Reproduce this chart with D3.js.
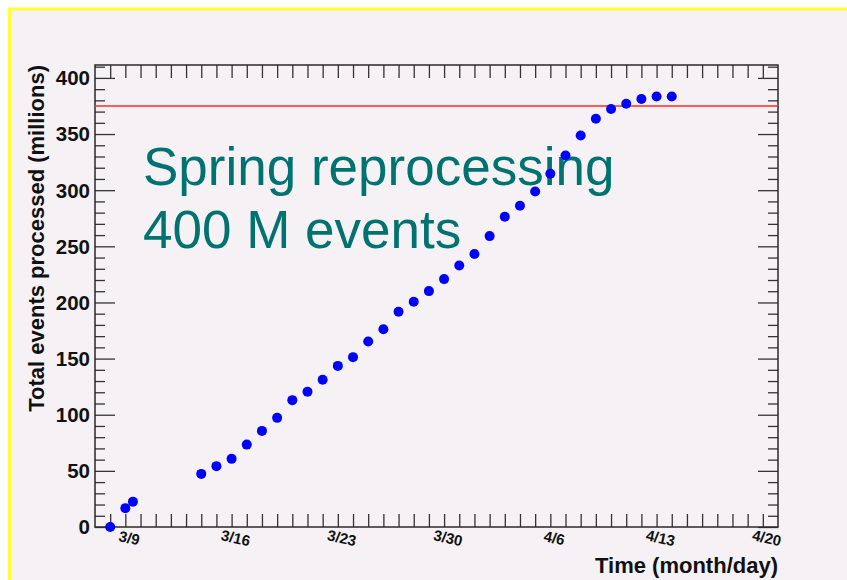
<!DOCTYPE html>
<html>
<head>
<meta charset="utf-8">
<script src="https://cdn.jsdelivr.net/npm/d3@7"></script>
<style>
  html, body { margin: 0; padding: 0; background: #ffffff; }
  svg { display: block; }
  text { font-family: "Liberation Sans", Arial, Helvetica, sans-serif; }
</style>
</head>
<body>
<svg id="chart" width="847" height="580"></svg>
<script>
// Sample times (UTC) of the cumulative event count
const sampleTimes = [
  "2008-03-08T00:00Z", "2008-03-09T00:00Z", "2008-03-09T12:00Z",
  "2008-03-14T00:00Z", "2008-03-15T00:00Z", "2008-03-16T00:00Z", "2008-03-17T00:00Z",
  "2008-03-18T00:00Z", "2008-03-19T00:00Z", "2008-03-20T00:00Z", "2008-03-21T00:00Z",
  "2008-03-22T00:00Z", "2008-03-23T00:00Z", "2008-03-24T00:00Z", "2008-03-25T00:00Z",
  "2008-03-26T00:00Z", "2008-03-27T00:00Z", "2008-03-28T00:00Z", "2008-03-29T00:00Z",
  "2008-03-30T00:00Z", "2008-03-31T00:00Z", "2008-04-01T00:00Z", "2008-04-02T00:00Z",
  "2008-04-03T00:00Z", "2008-04-04T00:00Z", "2008-04-05T00:00Z", "2008-04-06T00:00Z",
  "2008-04-07T00:00Z", "2008-04-08T00:00Z", "2008-04-09T00:00Z", "2008-04-10T00:00Z",
  "2008-04-11T00:00Z", "2008-04-12T00:00Z", "2008-04-13T00:00Z", "2008-04-14T00:00Z"
];
// Total events processed, in millions
const totalEvents = [
  0, 16.8, 22.6,
  47.3, 54.2, 60.7, 73.4, 85.6, 97.2, 113.0, 120.4, 131.2, 143.5,
  151.3, 165.2, 176.2, 191.7, 200.6, 210.1, 220.8, 232.9, 243.1, 259.1,
  276.3, 286.1, 298.9, 314.6, 330.9, 348.7, 363.6, 372.3, 377.0, 381.2,
  383.5, 383.5
];
// Target line (millions)
const targetEvents = [375];

// Axis ranges and labels
const timeDomain = ["2008-03-07T00:00Z", "2008-04-21T00:00Z"];
const timeTickLabels = ["3/9", "3/16", "3/23", "3/30", "4/6", "4/13", "4/20"];
const timeTickDates = ["2008-03-09T00:00Z", "2008-03-16T00:00Z", "2008-03-23T00:00Z",
  "2008-03-30T00:00Z", "2008-04-06T00:00Z", "2008-04-13T00:00Z", "2008-04-20T00:00Z"];
const eventsMax = 411.5;
const eventsMajorTicks = [0, 50, 100, 150, 200, 250, 300, 350, 400];

const titleLines = ["Spring reprocessing", "400 M events"];
const xTitle = "Time (month/day)";
const yTitle = "Total events processed (millions)";

const svg = d3.select("#chart");

// Pad: yellow outline around a light lavender fill
svg.append("rect").attr("x", 9.5).attr("y", 9).attr("width", 900).attr("height", 700)
  .attr("fill", "#f5f1f5").attr("stroke", "#ffff33").attr("stroke-width", 3);

const frame = { left: 95, right: 778, top: 65, bottom: 527 };

const x = d3.scaleUtc()
  .domain(timeDomain.map(d => new Date(d)))
  .range([frame.left, frame.right]);
const y = d3.scaleLinear()
  .domain([0, eventsMax])
  .range([frame.bottom, frame.top]);

const tickColor = "#333333";

// Daily ticks on bottom and top axes
const dayTicks = d3.utcDay.range(d3.utcDay.offset(x.domain()[0], 1), x.domain()[1]);

svg.append("g")
  .attr("transform", `translate(0,${frame.bottom})`)
  .call(d3.axisBottom(x).tickValues(dayTicks).tickSizeInner(-13).tickSizeOuter(0).tickFormat(""))
  .call(g => g.select(".domain").remove())
  .call(g => g.selectAll("line").attr("stroke", tickColor).attr("stroke-width", 1.3));

svg.append("g")
  .attr("transform", `translate(0,${frame.top})`)
  .call(d3.axisTop(x).tickValues(dayTicks).tickSizeInner(-13).tickSizeOuter(0).tickFormat(""))
  .call(g => g.select(".domain").remove())
  .call(g => g.selectAll("line").attr("stroke", tickColor).attr("stroke-width", 1.3));

// Vertical ticks: majors every 50, minors every 10
const minorTicks = d3.range(0, eventsMax, 10).filter(v => v % 50 !== 0);

function yTicks(axisFn, xPos, size, values) {
  svg.append("g")
    .attr("transform", `translate(${xPos},0)`)
    .call(axisFn(y).tickValues(values).tickSizeInner(-size).tickSizeOuter(0).tickFormat(""))
    .call(g => g.select(".domain").remove())
    .call(g => g.selectAll("line").attr("stroke", tickColor).attr("stroke-width", 1.3));
}
yTicks(d3.axisLeft, frame.left, 20, eventsMajorTicks);
yTicks(d3.axisLeft, frame.left, 10, minorTicks);
yTicks(d3.axisRight, frame.right, 20, eventsMajorTicks);
yTicks(d3.axisRight, frame.right, 10, minorTicks);

// Frame
svg.append("rect")
  .attr("x", frame.left).attr("y", frame.top)
  .attr("width", frame.right - frame.left).attr("height", frame.bottom - frame.top)
  .attr("fill", "none").attr("stroke", "#2a2a2a").attr("stroke-width", 1.5);

// Y tick labels
svg.append("g").selectAll("text")
  .data(eventsMajorTicks)
  .join("text")
  .attr("x", frame.left - 5)
  .attr("y", d => y(d))
  .attr("dy", "0.36em")
  .attr("text-anchor", "end")
  .attr("font-size", 20.5)
  .attr("font-weight", "bold")
  .attr("fill", "#111")
  .text(d => d);

// X tick labels (slightly tilted)
svg.append("g").selectAll("text")
  .data(timeTickDates.map((d, i) => ({ t: new Date(d), label: timeTickLabels[i] })))
  .join("text")
  .attr("transform", d => `translate(${x(d.t) + 4},${frame.bottom + 11}) rotate(12)`)
  .attr("text-anchor", "middle")
  .attr("dy", "0.35em")
  .attr("font-size", 15)
  .attr("font-weight", "bold")
  .attr("fill", "#111")
  .text(d => d.label);

// Axis titles
svg.append("text")
  .attr("x", frame.right).attr("y", 573)
  .attr("text-anchor", "end")
  .attr("font-size", 22)
  .attr("font-weight", "bold")
  .attr("fill", "#111")
  .text(xTitle);

svg.append("text")
  .attr("transform", `translate(44,${frame.top}) rotate(-90)`)
  .attr("text-anchor", "end")
  .attr("font-size", 22)
  .attr("font-weight", "bold")
  .attr("fill", "#111")
  .text(yTitle);

// Target line
svg.append("g").selectAll("line")
  .data(targetEvents)
  .join("line")
  .attr("x1", frame.left).attr("x2", frame.right)
  .attr("y1", d => y(d)).attr("y2", d => y(d))
  .attr("stroke", "#ff2a2a").attr("stroke-width", 1.3);

// Annotation
svg.append("g").selectAll("text")
  .data(titleLines)
  .join("text")
  .attr("x", 143)
  .attr("y", (d, i) => 185 + i * 63)
  .attr("font-size", 53)
  .attr("fill", "#007370")
  .text(d => d);

// Data points
const points = sampleTimes.map((t, i) => ({ t: new Date(t), v: totalEvents[i] }));
svg.append("g").selectAll("circle")
  .data(points)
  .join("circle")
  .attr("cx", d => x(d.t))
  .attr("cy", d => y(d.v))
  .attr("r", 5)
  .attr("fill", "#0000ff");
</script>
</body>
</html>
